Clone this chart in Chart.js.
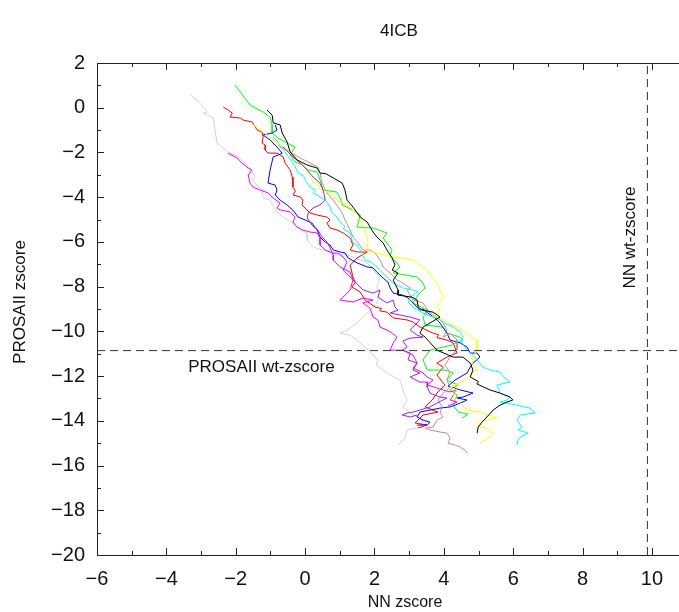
<!DOCTYPE html>
<html>
<head>
<meta charset="utf-8">
<title>4ICB</title>
<script src="https://cdn.jsdelivr.net/npm/chart.js@4.4.1/dist/chart.umd.min.js"></script>
<style>
html, body { margin: 0; padding: 0; background: #fff; }
</style>
</head>
<body>
<canvas id="c" width="679" height="612"></canvas>
<script>
// axis ranges and reference lines
const xMin = -6, xMax = 10.78
const yMin = -20, yMax = 2
const wtNN = 9.87
const wtProsa = -10.86

// one trace per model, [NN zscore, PROSAII zscore]
const grayPts = [[-3.31,0.57],[-3.11,0.34],[-2.82,-0.19],[-2.94,-0.24],[-2.65,-0.46],[-2.60,-0.95],[-2.54,-1.58],[-2.22,-1.98],[-1.87,-2.25],[-1.59,-2.70],[-1.44,-3.10],[-1.53,-3.23],[-1.24,-3.68],[-1.21,-4.04],[-1.01,-4.13],[-0.92,-4.40],[-0.81,-4.66],[-0.63,-4.89],[-0.35,-5.16],[-0.14,-5.47],[0.06,-5.61],[0.06,-5.92],[0.23,-6.23],[0.49,-6.36],[0.70,-6.40],[0.92,-6.59],[1.15,-6.55],[1.38,-6.68],[1.79,-6.94],[1.96,-7.26],[2.16,-7.57],[2.07,-8.02],[2.16,-8.29],[2.07,-8.73],[1.87,-9.05],[1.67,-9.36],[1.50,-9.63],[1.21,-9.94],[1.01,-10.08],[1.30,-10.17],[1.59,-10.52],[1.87,-10.92],[2.10,-11.28],[2.05,-11.50],[2.36,-11.86],[2.74,-12.18],[2.82,-12.62],[2.94,-13.07],[2.82,-13.38],[3.03,-13.65],[3.40,-13.97],[3.31,-14.28],[2.94,-14.41],[2.88,-14.77],[2.68,-15.08]]
const redPts = [[-2.36,0.03],[-2.22,-0.10],[-2.10,-0.24],[-2.16,-0.42],[-1.87,-0.46],[-1.79,-0.55],[-1.53,-0.64],[-1.44,-0.86],[-1.38,-1.00],[-1.24,-1.09],[-1.21,-1.31],[-1.24,-1.58],[-1.15,-1.67],[-1.15,-1.89],[-1.07,-2.03],[-0.81,-2.03],[-0.63,-2.20],[-0.58,-2.47],[-0.43,-2.79],[-0.37,-3.10],[-0.35,-3.55],[-0.28,-3.72],[-0.35,-3.90],[-0.14,-3.99],[-0.06,-4.13],[-0.09,-4.35],[0.06,-4.58],[0.14,-4.71],[0.35,-4.80],[0.63,-4.89],[0.72,-5.02],[0.63,-5.16],[0.72,-5.38],[0.92,-5.47],[1.10,-5.60],[1.30,-5.83],[1.38,-6.14],[1.30,-6.36],[1.50,-6.45],[1.79,-6.45],[1.50,-6.72],[1.30,-7.04],[1.38,-7.57],[1.45,-7.80],[1.35,-8.02],[1.59,-8.24],[1.73,-8.60],[2.02,-8.91],[2.20,-8.98],[2.15,-9.08],[2.36,-9.14],[2.54,-9.40],[2.94,-9.49],[3.11,-9.58],[3.31,-9.81],[3.69,-10.08],[3.85,-10.15],[3.80,-10.28],[4.09,-10.39],[4.27,-10.52],[4.38,-10.97],[4.09,-11.15],[3.80,-11.42],[3.98,-11.60],[3.80,-11.95],[4.03,-12.40],[3.83,-12.71],[3.66,-13.07],[3.46,-13.38],[3.83,-13.61],[3.40,-13.74],[3.17,-14.10],[3.52,-14.19],[3.26,-14.32]]
const greenPts = [[-2.02,1.02],[-1.59,0.12],[-1.21,-0.19],[-1.01,-0.42],[-0.95,-0.77],[-0.95,-1.13],[-0.78,-1.36],[-0.58,-1.53],[-0.29,-1.76],[-0.43,-2.11],[-0.29,-2.43],[-0.06,-2.56],[0.09,-2.79],[0.35,-2.88],[0.43,-3.23],[0.52,-3.68],[0.92,-3.77],[1.01,-4.04],[1.07,-4.35],[1.38,-4.58],[1.59,-4.80],[1.50,-5.34],[1.96,-5.38],[2.36,-5.60],[2.25,-5.83],[2.51,-6.36],[2.45,-6.60],[2.74,-7.12],[2.54,-7.39],[3.23,-7.57],[3.40,-7.84],[3.46,-8.06],[3.26,-8.37],[3.11,-8.73],[3.52,-9.05],[3.40,-9.35],[3.46,-9.72],[3.98,-9.81],[4.09,-10.08],[4.47,-10.26],[4.55,-10.39],[4.24,-10.61],[3.98,-10.70],[3.60,-10.84],[3.40,-11.28],[3.52,-11.73],[4.03,-11.73],[4.27,-11.86],[4.09,-12.18],[4.41,-12.40],[4.18,-12.62],[4.38,-12.85],[4.27,-13.29],[4.41,-13.61],[4.70,-13.70],[4.52,-13.88]]
const blackPts = [[-1.10,-0.10],[-0.95,-0.33],[-0.92,-0.68],[-0.72,-0.77],[-0.66,-1.13],[-0.52,-1.53],[-0.43,-1.98],[-0.23,-2.34],[0.06,-2.56],[0.35,-2.70],[0.43,-2.92],[0.60,-2.95],[0.81,-3.14],[1.07,-3.37],[1.15,-3.68],[1.21,-4.13],[1.38,-4.44],[1.59,-4.89],[1.79,-5.11],[1.96,-5.56],[2.07,-5.78],[2.25,-6.05],[2.36,-6.36],[2.51,-6.72],[2.59,-7.03],[2.51,-7.26],[2.68,-7.39],[2.54,-7.71],[2.68,-8.15],[2.68,-8.38],[3.08,-8.47],[3.23,-8.60],[3.26,-8.91],[3.37,-9.05],[3.69,-9.14],[3.89,-9.36],[3.40,-9.81],[3.31,-10.08],[3.46,-10.26],[3.80,-10.84],[4.27,-11.15],[4.55,-11.15],[4.76,-11.42],[4.84,-11.73],[4.76,-12.04],[5.00,-12.25],[4.95,-12.35],[5.33,-12.62],[5.62,-12.76],[5.91,-12.94],[5.99,-13.07],[5.82,-13.16],[5.62,-13.30],[5.42,-13.52],[5.24,-13.83],[5.10,-14.06],[4.99,-14.28],[4.96,-14.55]]
const bluePts = [[-0.86,-0.77],[-0.81,-1.00],[-0.95,-1.13],[-1.21,-1.22],[-1.01,-1.44],[-0.81,-1.76],[-0.66,-2.03],[-0.78,-2.12],[-0.92,-2.20],[-1.01,-2.79],[-1.07,-3.37],[-0.86,-3.46],[-0.81,-3.68],[-0.86,-3.90],[-0.72,-4.13],[-0.52,-4.35],[-0.35,-4.58],[-0.20,-4.89],[0.00,-5.02],[0.20,-5.16],[0.35,-5.47],[0.43,-5.78],[0.58,-6.01],[0.72,-6.14],[0.81,-6.36],[1.01,-6.45],[1.15,-6.49],[1.24,-6.72],[1.50,-6.94],[1.79,-7.12],[1.95,-7.15],[2.07,-7.35],[2.25,-7.62],[2.39,-7.80],[2.45,-8.06],[2.54,-8.29],[2.82,-8.38],[2.97,-8.51],[3.11,-8.73],[3.31,-9.05],[3.40,-9.00],[3.54,-9.18],[3.75,-9.40],[3.89,-9.63],[4.09,-10.08],[4.18,-10.39],[4.47,-10.52],[4.67,-10.70],[4.76,-10.97],[4.96,-10.97],[5.04,-11.15],[4.84,-11.42],[4.76,-11.60],[4.67,-11.86],[4.32,-12.18],[4.12,-12.45],[4.47,-12.62],[4.84,-12.76],[4.55,-12.94],[4.38,-12.98],[4.67,-13.07],[4.47,-13.21],[4.18,-13.38],[3.89,-13.43],[3.60,-13.52],[3.31,-13.61],[3.23,-13.83],[3.40,-13.97],[3.60,-14.06],[3.52,-14.19],[3.23,-14.19]]
const cyanPts = [[-0.92,-1.31],[-0.78,-1.53],[-0.72,-1.76],[-0.60,-1.90],[-0.52,-2.12],[-0.37,-2.43],[-0.30,-2.60],[-0.20,-2.92],[-0.05,-3.05],[0.06,-3.37],[0.14,-3.55],[0.30,-3.68],[0.22,-3.80],[0.43,-3.99],[0.60,-4.15],[0.72,-4.44],[0.78,-4.71],[0.92,-4.89],[1.01,-5.11],[1.15,-5.30],[1.10,-5.42],[1.30,-5.60],[1.38,-6.05],[1.50,-6.15],[1.59,-6.36],[1.73,-6.81],[1.90,-6.90],[2.07,-7.12],[2.20,-7.35],[2.36,-7.57],[2.54,-7.84],[2.82,-8.06],[3.11,-8.15],[3.26,-8.24],[3.03,-8.47],[2.97,-8.69],[3.11,-8.91],[3.40,-9.18],[3.69,-9.36],[3.80,-9.40],[4.03,-9.63],[4.27,-9.81],[4.47,-10.03],[4.55,-10.26],[4.50,-10.45],[4.67,-10.84],[4.80,-11.00],[4.96,-11.28],[5.13,-11.60],[5.33,-11.73],[5.62,-11.82],[5.70,-12.00],[5.91,-12.27],[5.53,-12.40],[5.62,-12.76],[5.91,-12.94],[5.82,-13.07],[5.62,-13.16],[6.11,-13.30],[6.48,-13.43],[6.63,-13.65],[6.20,-13.74],[6.11,-13.97],[6.25,-14.28],[6.14,-14.41],[6.43,-14.55],[6.20,-14.73],[6.14,-14.86],[6.11,-15.08]]
const magentaPts = [[-2.22,-2.03],[-1.96,-2.25],[-1.82,-2.47],[-1.64,-2.70],[-1.53,-2.79],[-1.64,-3.01],[-1.59,-3.37],[-1.50,-3.55],[-1.30,-3.68],[-1.07,-3.81],[-0.92,-4.04],[-0.72,-4.26],[-0.81,-4.48],[-0.72,-4.57],[-0.43,-4.66],[-0.29,-4.89],[-0.35,-5.11],[-0.23,-5.34],[-0.06,-5.47],[0.14,-5.56],[0.35,-5.60],[0.43,-5.83],[0.43,-6.14],[0.58,-6.36],[0.78,-6.50],[0.95,-6.50],[1.10,-6.68],[1.21,-6.90],[1.10,-7.26],[1.30,-7.57],[1.38,-7.70],[1.30,-8.15],[1.01,-8.60],[1.38,-8.69],[1.67,-8.51],[1.96,-8.60],[1.67,-8.73],[1.87,-8.96],[1.96,-9.36],[2.10,-9.49],[2.16,-9.81],[2.36,-9.94],[2.51,-10.08],[2.65,-10.26],[2.54,-10.52],[2.45,-10.84],[2.82,-10.84],[3.11,-11.06],[3.23,-11.42],[3.11,-11.64],[3.37,-11.82],[3.52,-12.04],[3.69,-12.18],[3.52,-12.40],[3.80,-12.53],[3.98,-12.62],[4.18,-12.71],[4.38,-12.62],[4.18,-13.07],[4.38,-13.16],[4.12,-13.34]]
const yellowPts = [[-1.50,-0.77],[-1.30,-1.00],[-1.10,-1.22],[-0.78,-1.58],[-0.43,-1.98],[-0.14,-2.43],[0.06,-2.79],[0.23,-3.32],[0.45,-3.50],[0.40,-3.62],[0.72,-3.81],[0.92,-4.13],[1.30,-4.44],[1.59,-4.89],[1.73,-5.47],[1.82,-6.05],[1.73,-6.36],[2.07,-6.50],[2.54,-6.68],[2.80,-6.72],[3.11,-6.81],[3.31,-7.03],[3.52,-7.26],[3.66,-7.57],[3.80,-7.84],[3.89,-8.15],[3.98,-8.47],[3.95,-8.60],[3.80,-8.91],[3.89,-9.05],[3.80,-9.18],[3.66,-9.27],[3.98,-9.49],[4.09,-9.63],[4.38,-9.81],[4.67,-10.08],[4.84,-10.30],[4.96,-10.39],[4.96,-10.84],[4.84,-11.15],[4.81,-11.42],[4.96,-11.73],[4.67,-12.09],[4.47,-12.31],[4.18,-12.49],[4.38,-12.62],[4.27,-12.94],[4.47,-13.21],[4.67,-13.52],[5.04,-13.61],[5.53,-13.88],[5.24,-13.97],[4.96,-14.06],[5.04,-14.28],[5.24,-14.33],[5.42,-14.55],[5.33,-14.73],[5.10,-14.95],[5.04,-15.00]]
const brownPts = [[-0.78,-1.67],[-0.43,-1.98],[-0.14,-2.25],[0.14,-2.47],[0.37,-2.65],[0.43,-2.92],[0.49,-3.37],[0.63,-3.81],[0.81,-4.13],[0.95,-4.44],[1.07,-4.71],[1.15,-5.02],[1.30,-5.47],[1.38,-5.78],[1.53,-6.05],[1.67,-6.36],[1.87,-6.36],[2.02,-6.50],[2.16,-6.81],[2.25,-7.12],[2.45,-7.39],[2.65,-7.70],[2.82,-7.84],[3.03,-8.06],[2.94,-8.15],[3.11,-8.60],[3.40,-8.73],[3.60,-9.18],[3.80,-9.36],[3.98,-9.63],[4.09,-9.94],[3.98,-10.26],[4.18,-10.08],[4.38,-10.39],[4.38,-10.84],[4.18,-11.15],[4.03,-11.51],[4.18,-11.82],[4.09,-12.18],[4.18,-12.49],[3.98,-12.76],[3.83,-13.07],[3.95,-13.38],[3.89,-13.65],[3.98,-13.83],[3.80,-13.97],[3.69,-14.28],[3.46,-14.33],[3.60,-14.41],[3.89,-14.50],[4.09,-14.55],[4.18,-14.77],[4.12,-15.00],[4.32,-15.08],[4.47,-15.17],[4.61,-15.31],[4.67,-15.44]]
const purplePts = [[-0.63,-1.76],[-0.35,-2.20],[-0.14,-2.47],[0.06,-2.79],[0.23,-3.10],[0.43,-3.37],[0.52,-3.68],[0.58,-4.13],[0.43,-4.35],[0.23,-4.48],[0.09,-4.71],[0.06,-4.93],[0.20,-5.25],[0.37,-5.47],[0.49,-5.78],[0.63,-6.01],[0.72,-6.27],[0.81,-6.59],[0.81,-6.81],[1.01,-7.12],[1.30,-7.35],[1.38,-7.70],[1.67,-8.15],[1.96,-8.29],[2.16,-8.15],[2.10,-8.47],[2.36,-8.73],[2.54,-8.60],[2.59,-8.91],[2.68,-9.05],[2.45,-9.18],[2.74,-9.27],[3.03,-9.36],[3.31,-9.49],[3.03,-9.94],[3.23,-10.17],[3.40,-10.26],[3.03,-10.30],[2.82,-10.43],[2.94,-10.70],[2.80,-10.84],[3.03,-10.97],[2.97,-11.28],[3.23,-11.42],[3.11,-11.73],[3.31,-11.86],[3.03,-12.04],[3.31,-12.27],[3.54,-12.27],[3.52,-12.49],[3.60,-12.76],[3.89,-12.94],[4.09,-12.98],[3.80,-13.21],[3.60,-13.38],[3.31,-13.52],[3.11,-13.61],[2.94,-13.65],[2.80,-13.74],[3.03,-13.83],[3.23,-13.74]]

const traces = [
  {pts: grayPts, color: '#d3d3d3'},
  {pts: redPts, color: '#ff0000'},
  {pts: greenPts, color: '#00ff00'},
  {pts: bluePts, color: '#0000ff'},
  {pts: magentaPts, color: '#ff00ff'},
  {pts: brownPts, color: '#bc8f8f'},
  {pts: cyanPts, color: '#00ffff'},
  {pts: yellowPts, color: '#ffff00'},
  {pts: purplePts, color: '#a020f0'},
  {pts: blackPts, color: '#000000'}
]

const FONT = "'Liberation Sans', Arial, Helvetica, sans-serif"

function minus(v) {
  return v < 0 ? '\u2212' + Math.abs(v) : String(v)
}

let datasets = []
for (let i = 0; i < traces.length; i++) {
  datasets.push({
    data: traces[i].pts.map(p => ({x: p[0], y: p[1]})),
    borderColor: traces[i].color,
    borderWidth: 1,
    showLine: true,
    pointRadius: 0,
    order: traces.length - i
  })
}
// reference lines
datasets.push({
  data: [{x: xMin, y: wtProsa}, {x: xMax, y: wtProsa}],
  borderColor: '#333', borderWidth: 1, borderDash: [8, 5],
  showLine: true, pointRadius: 0, order: 0
})
datasets.push({
  data: [{x: wtNN, y: yMin}, {x: wtNN, y: yMax}],
  borderColor: '#333', borderWidth: 1, borderDash: [8, 5],
  showLine: true, pointRadius: 0, order: 0
})

// R-style frame: inward ticks on left, bottom and top, plus text
const frame = {
  id: 'frame',
  beforeDatasetsDraw(chart) {
    const ctx = chart.ctx, a = chart.chartArea
    const xs = chart.scales.x, ys = chart.scales.y
    ctx.save()
    ctx.strokeStyle = '#222'
    ctx.lineWidth = 1
    ctx.beginPath()
    ctx.moveTo(a.left + 0.5, a.top); ctx.lineTo(a.left + 0.5, a.bottom + 1)
    ctx.moveTo(a.left, a.bottom + 0.5); ctx.lineTo(a.right, a.bottom + 0.5)
    ctx.moveTo(a.left, a.top + 0.5); ctx.lineTo(a.right, a.top + 0.5)
    for (let v = -6; v <= 10; v++) {
      let px = Math.round(xs.getPixelForValue(v)) + 0.5
      let len = (v % 2 == 0) ? 7 : 4
      ctx.moveTo(px, a.bottom); ctx.lineTo(px, a.bottom - len)
      ctx.moveTo(px, a.top); ctx.lineTo(px, a.top + len)
    }
    for (let v = yMin; v <= yMax; v++) {
      let py = Math.round(ys.getPixelForValue(v)) + 0.5
      let len = (v % 2 == 0) ? 7 : 4
      ctx.moveTo(a.left, py); ctx.lineTo(a.left + len, py)
    }
    ctx.stroke()
    ctx.restore()
  },
  afterDraw(chart) {
    const ctx = chart.ctx
    const xs = chart.scales.x, ys = chart.scales.y
    ctx.save()
    ctx.fillStyle = '#111'
    ctx.textAlign = 'center'
    ctx.textBaseline = 'middle'
    ctx.font = '17px ' + FONT
    ctx.fillText('4ICB', 399, 31)
    ctx.font = '16px ' + FONT
    ctx.fillText('NN zscore', 405, 603)
    ctx.save()
    ctx.translate(20, 302)
    ctx.rotate(-Math.PI / 2)
    ctx.font = '17px ' + FONT
    ctx.fillText('PROSAII zscore', 0, 0)
    ctx.restore()
    ctx.font = '17px ' + FONT
    ctx.textAlign = 'left'
    ctx.fillText('PROSAII wt-zscore', xs.getPixelForValue(-3.37), ys.getPixelForValue(-11.6))
    ctx.save()
    ctx.translate(xs.getPixelForValue(9.37), ys.getPixelForValue(-5.8))
    ctx.rotate(-Math.PI / 2)
    ctx.textAlign = 'center'
    ctx.fillText('NN wt-zscore', 0, 0)
    ctx.restore()
    ctx.restore()
  }
}

new Chart(document.getElementById('c'), {
  type: 'scatter',
  data: {datasets: datasets},
  plugins: [frame],
  options: {
    responsive: false,
    animation: false,
    devicePixelRatio: 1,
    layout: {padding: {top: 63, right: 0, bottom: 0, left: 0}},
    plugins: {legend: {display: false}, tooltip: {enabled: false}},
    scales: {
      x: {
        type: 'linear', min: xMin, max: xMax,
        afterFit: s => { s.height = 57 },
        grid: {display: false, drawTicks: false},
        border: {display: false},
        ticks: {stepSize: 2, includeBounds: false, padding: 12, color: '#111',
          font: {size: 20, family: FONT}, maxRotation: 0, autoSkip: false,
          callback: v => minus(v)}
      },
      y: {
        type: 'linear', min: yMin, max: yMax,
        afterFit: s => { s.width = 97 },
        grid: {display: false, drawTicks: false},
        border: {display: false},
        ticks: {stepSize: 2, padding: 12, color: '#111',
          font: {size: 20, family: FONT}, autoSkip: false,
          callback: v => minus(v)}
      }
    }
  }
})
</script>
</body>
</html>
